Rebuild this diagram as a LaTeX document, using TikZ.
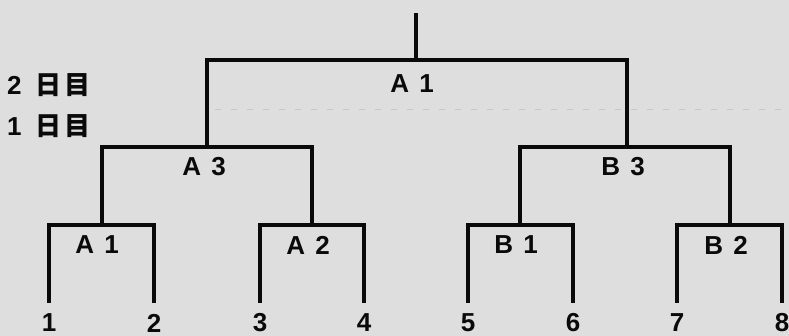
\documentclass[tikz,border=0pt]{standalone}
\usepackage{fontspec}
\setmainfont{Liberation Sans}
\newfontfamily\jpfont{Noto Sans CJK JP}
\definecolor{paper}{RGB}{222,222,222}
\definecolor{ink}{RGB}{10,10,10}
\begin{document}
\begin{tikzpicture}[x=1pt,y=-1pt,
  bracket/.style={draw=ink,line width=3.6pt,line join=miter},
  lbl/.style={inner sep=0pt,font=\fontsize{26}{30}\selectfont\bfseries,text=ink},
  daylbl/.style={lbl,anchor=west},
  divider/.style={draw=black!22,line width=0.8pt,dash pattern=on 6pt off 10pt}]
\useasboundingbox (0,0) rectangle (789,336);
\fill[paper] (0,0) rectangle (789,336);
% divider between days
\draw[divider] (215,109) -- (789,109);
% leaves
\foreach \i/\x in {1/49,2/154,3/260,4/364,5/468,6/573,7/677,8/782}{
  \coordinate (L\i) at (\x,303);
  \node[lbl] (N\i) at (\x,323) {\i};
}
% junctions
\coordinate (m1) at (102,225);
\coordinate (m2) at (312,225);
\coordinate (m3) at (520,225);
\coordinate (m4) at (730,225);
\coordinate (s1) at (207,147);
\coordinate (s2) at (627,147);
\coordinate (f) at (416,60);
\coordinate (top) at (416,13);
% bracket lines
\draw[bracket] (L1) |- (m1) -| (L2);
\draw[bracket] (L3) |- (m2) -| (L4);
\draw[bracket] (L5) |- (m3) -| (L6);
\draw[bracket] (L7) |- (m4) -| (L8);
\draw[bracket] (m1) |- (s1) -| (m2);
\draw[bracket] (m3) |- (s2) -| (m4);
\draw[bracket] (s1) |- (f) -| (s2);
\draw[bracket] (f) -- (top);
% match labels
\node[lbl] (gA1) at (412,84) {A\hspace{3pt} 1};
\node[lbl] (gA3) at (204,167) {A\hspace{3pt} 3};
\node[lbl] (gB3) at (623,167) {B\hspace{3pt} 3};
\node[lbl] (g1) at (97,245) {A\hspace{3pt} 1};
\node[lbl] (g2) at (308,245) {A\hspace{3pt} 2};
\node[lbl] (g3) at (516,245) {B\hspace{3pt} 1};
\node[lbl] (g4) at (726,245) {B\hspace{3pt} 2};
% day labels
\node[daylbl] (d2) at (7,85) {2\hspace{14pt}{\jpfont 日\hspace{3pt}目}};
\node[daylbl] (d1) at (7,126) {1\hspace{14pt}{\jpfont 日\hspace{3pt}目}};
\end{tikzpicture}
\end{document}
